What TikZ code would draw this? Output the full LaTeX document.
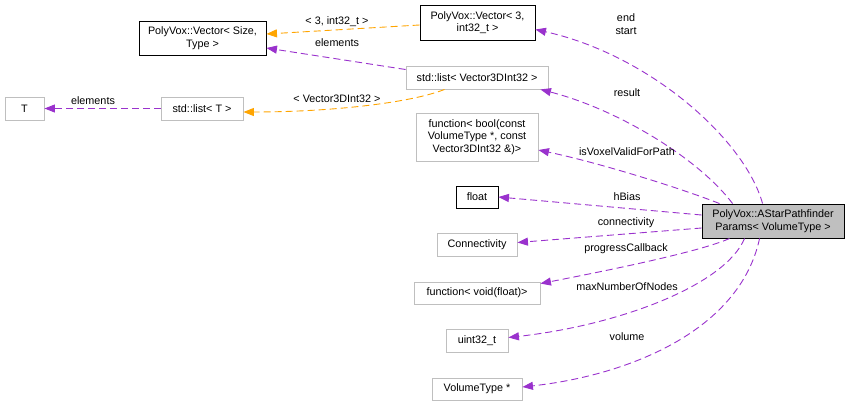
\documentclass[tikz,border=0pt]{standalone}
\usepackage{fontspec}
\setmainfont{Liberation Sans}
\usetikzlibrary{arrows.meta,calc}
\definecolor{edgepurple}{HTML}{9A32CD}
\definecolor{edgeorange}{HTML}{FFA500}
\definecolor{boxgray}{HTML}{BFBFBF}
\begin{document}
\begin{tikzpicture}[x=1pt,y=-1pt,
  txt/.style={font=\fontsize{10.8}{12.5}\selectfont},
  box/.style={txt, draw=boxgray, line width=0.9pt, fill=white, inner sep=0pt, align=center},
  blackbox/.style={box, draw=black},
  mainbox/.style={box, draw=black, fill=boxgray},
  mem/.style={draw=edgepurple, line width=0.9pt, dash pattern=on 7pt off 4pt, -{Triangle[length=10.5pt,width=8pt,fill=edgepurple]}},
  tmpl/.style={draw=edgeorange, line width=0.9pt, dash pattern=on 7pt off 4pt, -{Triangle[length=10.5pt,width=8pt,fill=edgeorange]}},
  lbl/.style={txt, inner sep=0pt, align=center}
]
\useasboundingbox[fill=white] (0,0) rectangle (851,407);

\node[blackbox, minimum width=127pt, minimum height=34pt] (vecST) at (202.5,38) {PolyVox::Vector\textless{} Size,\\Type \textgreater};
\node[blackbox, minimum width=115pt, minimum height=35pt] (vec3) at (477.5,22.5) {PolyVox::Vector\textless{} 3,\\int32\_t \textgreater};
\node[box, minimum width=142pt, minimum height=23pt] (listV) at (477,77.5) {std::list\textless{} Vector3DInt32 \textgreater};
\node[box, minimum width=39pt, minimum height=23pt] (T) at (24.5,108.5) {T};
\node[box, minimum width=82pt, minimum height=23pt] (listT) at (202,108.5) {std::list\textless{} T \textgreater};
\node[box, minimum width=122pt, minimum height=48pt] (funcB) at (477,137) {function\textless{} bool(const\\VolumeType *, const\\Vector3DInt32 \&)\textgreater};
\node[blackbox, minimum width=42pt, minimum height=22pt] (float) at (477,197) {float};
\node[mainbox, minimum width=142pt, minimum height=34pt] (main) at (773,221) {PolyVox::AStarPathfinder\\Params\textless{} VolumeType \textgreater};
\node[box, minimum width=80pt, minimum height=23pt] (conn) at (477,244.5) {Connectivity};
\node[box, minimum width=126pt, minimum height=22pt] (funcV) at (477,293) {function\textless{} void(float)\textgreater};
\node[box, minimum width=62pt, minimum height=23pt] (uint) at (477,340.5) {uint32\_t};
\node[box, minimum width=90pt, minimum height=22pt] (volT) at (477,389) {VolumeType *};

% template edges
\draw[tmpl] ($(vec3.west)+(0,2.5)$) -- ($(vecST.east)+(0,-4)$);
\draw[tmpl] ($(listV.south west)+(39,0)$) .. controls (410,103) and (330,112) .. ($(listT.east)+(0,3.5)$);
% member edges
\draw[mem] ($(listV.west)+(0,-8)$) -- ($(vecST.east)+(0,10)$);
\draw[mem] (listT.west) -- (T.east);
\draw[mem] ($(main.north west)+(61,0)$) .. controls (745,140) and (650,55) .. ($(vec3.east)+(0,7)$);
\draw[mem] ($(main.north west)+(31,0)$) .. controls (700,160) and (620,110) .. ($(listV.south east)+(-8,0)$);
\draw[mem] ($(main.north west)+(18,0)$) .. controls (680,188) and (600,163) .. ($(funcB.east)+(0,13)$);
\draw[mem] ($(main.west)+(0,-6)$) -- (float.east);
\draw[mem] ($(main.west)+(0,7)$) -- ($(conn.east)+(0,-2)$);
\draw[mem] ($(main.south west)+(28,0)$) .. controls (700,252) and (600,272) .. ($(funcV.north east)+(0,2)$);
\draw[mem] ($(main.south west)+(43,0)$) .. controls (725,285) and (620,325) .. ($(uint.east)+(0,-3)$);
\draw[mem] ($(main.south west)+(58,0)$) .. controls (740,330) and (630,375) .. ($(volT.east)+(0,-2)$);

% labels
\node[lbl] (l1) at (337,22) {\textless{} 3, int32\_t \textgreater};
\node[lbl] (l2) at (337,43) {elements};
\node[lbl] (l3) at (93,101) {elements};
\node[lbl] (l4) at (337,99) {\textless{} Vector3DInt32 \textgreater};
\node[lbl] (l5) at (626,24) {end\\start};
\node[lbl] (l6) at (627,93) {result};
\node[lbl] (l7) at (627,152) {isVoxelValidForPath};
\node[lbl] (l8) at (627,197) {hBias};
\node[lbl] (l9) at (626,223) {connectivity};
\node[lbl] (l10) at (626,249) {progressCallback};
\node[lbl] (l11) at (627,287) {maxNumberOfNodes};
\node[lbl] (l12) at (627,337) {volume};
\end{tikzpicture}
\end{document}
